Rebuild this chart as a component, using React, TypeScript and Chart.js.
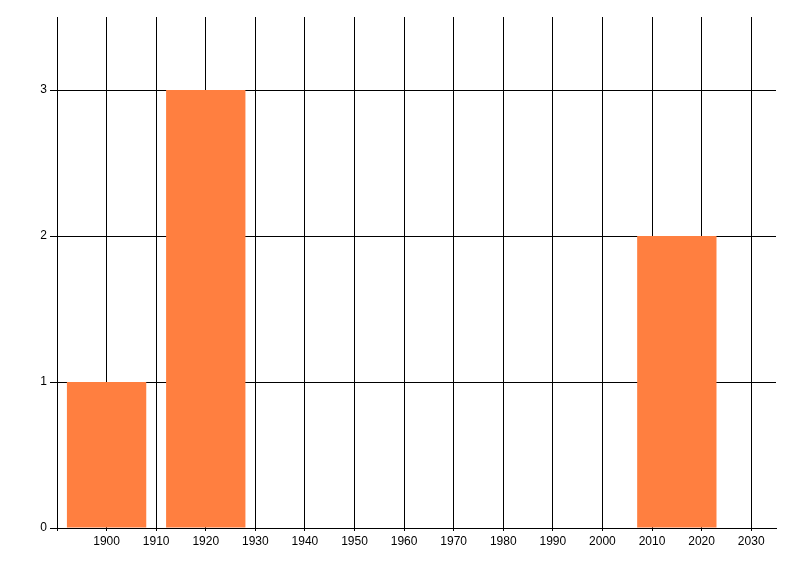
import React, { useEffect, useRef } from "react";
import { Chart, registerables } from "chart.js";

Chart.register(...registerables);

const years = [1900, 1920, 2015];
const counts = [1, 3, 2];
const xMin = 1890;
const xMax = 2035;
const yMax = 3.5;

export default function App() {
  const ref = useRef<HTMLCanvasElement | null>(null);
  useEffect(() => {
    if (!ref.current) return;
    const font = { family: "'Liberation Sans Narrow', 'Liberation Sans', Arial, sans-serif", size: 12 };
    const chart = new Chart(ref.current, {
      type: "bar",
      data: {
        datasets: [
          {
            data: years.map((y, i) => ({ x: y, y: counts[i] })),
            backgroundColor: "#FF7F40",
            borderWidth: 0,
            barPercentage: 1,
            categoryPercentage: 1.6,
          },
        ],
      },
      options: {
        animation: false,
        responsive: true,
        maintainAspectRatio: false,
        layout: { padding: { top: 17, right: 24, left: 0, bottom: 0 } },
        plugins: { legend: { display: false }, tooltip: { enabled: false } },
        scales: {
          x: {
            type: "linear",
            min: xMin,
            max: xMax,
            offset: false,
            grid: { offset: false, color: "#000", lineWidth: 1, tickLength: 3, drawTicks: true },
            border: { color: "#000", width: 1 },
            ticks: {
              stepSize: 10,
              includeBounds: false,
              autoSkip: false,
              maxRotation: 0,
              color: "#000",
              font,
              padding: 3,
              callback: (v: any) => (Number(v) === xMin ? "" : String(v)),
            },
            afterFit: (s: any) => {
              s.height = 48;
            },
          },
          y: {
            min: 0,
            max: yMax,
            grid: { color: "#000", lineWidth: 1, tickLength: 7 },
            border: { color: "#000", width: 1 },
            ticks: {
              stepSize: 1,
              includeBounds: false,
              color: "#000",
              font,
              padding: 3,
              callback: (v: any) => String(v),
            },
            afterFit: (s: any) => {
              s.width = 57;
            },
          },
        },
      },
    });
    return () => chart.destroy();
  }, []);
  return (
    <div style={{ position: "fixed", left: 0, top: 0, width: 800, height: 576, background: "#fff" }}>
      <canvas ref={ref} />
    </div>
  );
}
